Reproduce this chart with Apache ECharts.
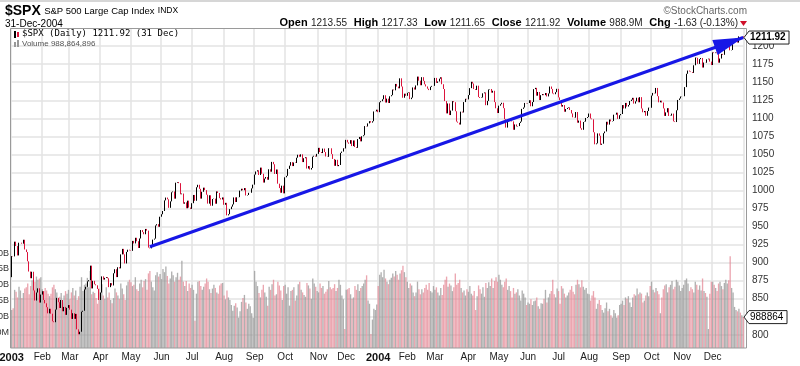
<!DOCTYPE html>
<html><head><meta charset="utf-8">
<script src="https://cdn.jsdelivr.net/npm/echarts@6/dist/echarts.min.js"></script>
<style>html,body{margin:0;padding:0;background:#fff}#c{width:800px;height:366px}</style>
</head><body><div id="c"></div>
<script>
// ---------------- data ----------------
const holidays = ['2003-01-01','2003-01-20','2003-02-17','2003-04-18','2003-05-26','2003-07-04','2003-09-01','2003-11-27','2003-12-25',
  '2004-01-01','2004-01-19','2004-02-16','2004-04-09','2004-05-31','2004-06-11','2004-07-05','2004-09-06','2004-11-25','2004-12-24'];
const monthNames = ['Jan','Feb','Mar','Apr','May','Jun','Jul','Aug','Sep','Oct','Nov','Dec'];
const prevClose2002 = 879.82;
const close2003 = [
 [909.03,908.59,929.01,922.93,909.93,927.57,927.57,926.26,931.66,918.22,914.60,901.78,887.62,878.36,887.34,861.40,847.48,858.54,864.36,844.61,855.70],
 [860.32,848.20,843.59,838.15,829.69,835.97,829.20,818.68,817.37,834.89,851.17,845.13,837.10,848.17,832.58,838.57,827.55,837.28,841.15],
 [834.81,821.99,829.85,822.10,828.89,807.48,800.73,804.19,831.90,833.27,862.79,866.45,874.02,875.67,895.79,864.23,874.74,869.95,868.52,863.50,848.18],
 [858.48,880.90,876.45,878.85,879.93,878.29,865.99,871.58,868.30,885.23,890.81,879.91,893.58,892.01,911.37,919.02,911.43,898.81,914.84,917.84,916.92],
 [916.30,930.08,926.55,934.39,929.62,920.27,933.41,945.11,942.30,939.28,946.67,944.30,920.77,919.73,923.42,931.87,933.22,951.48,953.22,949.64,963.59],
 [967.00,971.56,986.24,990.14,987.76,975.93,984.84,997.48,998.51,988.61,1010.74,1011.66,1010.09,994.70,995.69,981.64,983.45,975.32,985.82,976.22,974.50],
 [982.32,993.75,985.70,1004.42,1007.84,1002.21,988.70,998.14,1003.86,1000.42,994.09,981.73,993.32,978.80,988.11,988.61,981.60,998.68,996.52,989.28,987.49,990.31],
 [980.15,982.82,965.46,967.08,974.12,977.59,980.59,990.35,984.03,990.51,990.67,999.74,1002.35,1000.30,1003.27,993.06,993.71,996.73,996.79,1002.84,1008.01],
 [1021.99,1026.27,1027.97,1021.39,1031.64,1023.17,1010.92,1016.42,1018.63,1014.81,1029.32,1025.97,1039.58,1036.30,1022.82,1029.03,1009.38,1003.27,996.85,1006.58,995.97],
 [1018.22,1020.24,1029.85,1034.35,1039.25,1033.78,1038.73,1038.06,1045.35,1049.48,1046.76,1050.07,1039.32,1044.68,1046.03,1030.36,1033.77,1028.91,1031.13,1046.79,1048.11,1046.94,1050.71],
 [1059.02,1053.25,1051.81,1058.05,1053.21,1047.11,1046.57,1058.53,1058.41,1050.35,1043.63,1034.15,1042.44,1033.65,1035.28,1052.08,1053.89,1058.45,1058.20],
 [1070.12,1066.62,1064.73,1069.72,1061.50,1069.30,1060.18,1059.05,1071.21,1074.14,1068.04,1075.13,1076.48,1089.18,1088.66,1092.94,1096.02,1094.04,1095.89,1109.48,1109.64,1111.92]
];
const close2004 = [
 [1108.48,1122.22,1123.67,1126.33,1131.92,1121.86,1127.23,1121.22,1130.52,1132.05,1139.83,1138.77,1147.62,1143.94,1141.55,1155.37,1144.05,1128.48,1134.11,1131.13],
 [1135.26,1136.03,1126.52,1128.59,1142.76,1139.81,1145.54,1157.76,1152.11,1145.81,1156.99,1151.82,1147.06,1144.11,1140.99,1139.09,1143.67,1144.91,1144.94],
 [1155.97,1149.10,1151.03,1154.87,1156.86,1147.20,1140.58,1123.89,1106.78,1120.57,1104.49,1110.70,1123.75,1122.32,1109.78,1095.40,1093.95,1091.33,1109.19,1108.06,1122.47,1127.00,1126.21],
 [1132.17,1141.81,1150.57,1148.16,1140.53,1139.32,1145.20,1129.44,1128.17,1128.84,1134.61,1135.82,1118.15,1124.09,1139.93,1140.60,1135.53,1138.11,1122.41,1113.89,1107.30],
 [1117.49,1119.55,1121.53,1113.99,1098.70,1087.12,1095.45,1097.28,1096.44,1095.70,1084.10,1091.49,1088.68,1089.19,1093.56,1095.41,1113.05,1114.94,1121.28,1120.68],
 [1121.20,1124.99,1116.64,1122.50,1140.42,1142.18,1131.33,1136.47,1125.29,1132.01,1133.56,1132.05,1135.02,1130.30,1134.41,1144.06,1140.65,1134.43,1133.35,1136.20,1140.84],
 [1128.94,1125.38,1116.21,1118.33,1109.11,1112.81,1114.35,1115.14,1111.47,1106.69,1101.39,1100.90,1108.67,1093.88,1096.84,1086.20,1084.07,1094.83,1095.42,1100.43,1101.72],
 [1106.62,1099.69,1098.63,1080.70,1063.97,1065.22,1079.04,1075.79,1063.23,1064.80,1079.34,1081.71,1095.17,1091.23,1098.35,1095.68,1096.19,1104.96,1105.09,1107.77,1099.15,1104.24],
 [1105.91,1118.31,1113.63,1121.30,1116.27,1118.38,1123.92,1125.82,1128.33,1120.37,1123.50,1128.55,1122.20,1129.30,1113.56,1108.36,1110.11,1103.52,1110.06,1114.80,1114.58],
 [1131.50,1135.17,1134.48,1142.05,1130.65,1122.14,1124.39,1121.84,1113.65,1103.29,1108.20,1114.02,1103.23,1103.66,1106.49,1095.74,1094.80,1111.09,1125.40,1127.44,1130.20],
 [1130.51,1130.56,1143.20,1161.67,1166.17,1164.89,1164.08,1162.91,1173.48,1184.17,1183.81,1175.43,1181.94,1183.55,1170.34,1177.24,1176.94,1181.76,1182.65,1178.57,1173.82],
 [1191.37,1190.33,1191.17,1190.25,1177.07,1182.81,1189.24,1188.00,1198.68,1203.38,1205.72,1203.21,1194.20,1194.65,1205.45,1209.57,1210.13,1204.92,1213.54,1213.45,1213.55,1211.92]
];
// volume, billions of shares
const vol2003 = [
 [1.10,1.13,1.42,1.39,1.30,1.47,1.41,1.29,1.37,1.44,1.46,1.52,1.35,1.48,1.57,1.44,1.55,1.63,1.58,1.60,1.62],
 [1.43,1.40,1.45,1.41,1.36,1.32,1.36,1.46,1.50,1.43,1.38,1.27,1.31,1.37,1.22,1.33,1.40,1.36,1.42],
 [1.28,1.38,1.45,1.33,1.41,1.26,1.32,1.47,1.62,1.40,1.50,1.52,1.61,1.46,1.72,1.35,1.39,1.37,1.29,1.20,1.44],
 [1.38,1.51,1.33,1.28,1.46,1.30,1.38,1.26,1.21,1.29,1.44,1.38,1.33,1.28,1.52,1.44,1.35,1.26,1.49,1.55,1.58],
 [1.54,1.48,1.50,1.62,1.43,1.40,1.52,1.58,1.46,1.56,1.59,1.42,1.68,1.72,1.55,1.46,1.41,1.65,1.70,1.63,1.67],
 [1.59,1.75,1.70,1.79,1.64,1.52,1.60,1.71,1.65,1.55,1.62,1.69,1.58,1.63,1.88,1.55,1.48,1.56,1.40,1.52,1.45],
 [1.50,1.42,0.93,1.36,1.55,1.56,1.48,1.42,1.47,1.52,1.60,1.55,1.43,1.37,1.44,1.50,1.45,1.38,1.36,1.49,1.52,1.53],
 [1.33,1.27,1.41,1.30,1.26,1.18,1.09,1.17,1.21,1.14,0.98,1.08,1.23,1.29,1.34,1.22,1.12,1.20,1.16,1.05,0.98],
 [1.72,1.55,1.48,1.37,1.30,1.42,1.50,1.38,1.31,1.17,1.47,1.42,1.51,1.58,1.33,1.35,1.55,1.49,1.41,1.26,1.48],
 [1.50,1.36,1.46,1.17,1.40,1.42,1.46,1.25,1.33,1.51,1.55,1.42,1.38,1.34,1.31,1.53,1.49,1.44,1.28,1.60,1.52,1.47,1.40],
 [1.38,1.52,1.45,1.48,1.36,1.39,1.43,1.56,1.46,1.43,1.45,1.51,1.40,1.45,1.58,1.50,1.33,1.27,0.80],
 [1.42,1.43,1.45,1.35,1.28,1.30,1.48,1.42,1.51,1.40,1.45,1.48,1.52,1.58,1.65,1.25,1.20,0.72,0.95,1.12,1.10,1.19]
];
const vol2004 = [
 [1.48,1.66,1.70,1.62,1.74,1.60,1.55,1.51,1.58,1.61,1.68,1.63,1.72,1.66,1.58,1.68,1.73,1.80,1.70,1.62],
 [1.55,1.45,1.52,1.49,1.38,1.32,1.38,1.55,1.43,1.35,1.43,1.38,1.45,1.50,1.42,1.53,1.40,1.38,1.48],
 [1.42,1.46,1.38,1.33,1.45,1.34,1.50,1.58,1.63,1.47,1.52,1.49,1.40,1.46,1.68,1.50,1.53,1.58,1.45,1.38,1.41,1.33,1.43],
 [1.39,1.48,1.36,1.33,1.40,1.10,1.32,1.49,1.43,1.36,1.46,1.31,1.53,1.45,1.54,1.48,1.60,1.45,1.56,1.62,1.55],
 [1.66,1.58,1.50,1.46,1.55,1.60,1.42,1.48,1.40,1.30,1.45,1.36,1.38,1.43,1.33,1.25,1.41,1.36,1.30,1.18],
 [1.22,1.20,1.27,1.18,1.24,1.25,1.30,1.16,1.12,1.21,1.20,1.28,1.42,1.22,1.30,1.36,1.40,1.58,1.35,1.30,1.44],
 [1.40,1.20,1.48,1.44,1.36,1.30,1.33,1.38,1.42,1.48,1.39,1.35,1.50,1.58,1.51,1.46,1.57,1.47,1.42,1.45,1.36],
 [1.35,1.25,1.33,1.40,1.30,1.12,1.20,1.26,1.18,1.10,1.06,1.13,1.22,1.08,1.12,1.02,0.98,1.10,1.05,0.98,1.02,1.18],
 [1.20,1.25,1.18,1.30,1.28,1.32,1.22,1.15,1.30,1.35,1.33,1.44,1.35,1.38,1.36,1.22,1.25,1.33,1.38,1.32,1.48],
 [1.55,1.42,1.38,1.45,1.40,1.35,1.05,1.30,1.43,1.49,1.51,1.38,1.46,1.50,1.56,1.43,1.47,1.58,1.55,1.49,1.40],
 [1.45,1.50,1.57,1.60,1.52,1.40,1.46,1.43,1.38,1.55,1.50,1.42,1.49,1.41,1.60,1.40,1.37,1.31,0.80,1.36,1.55],
 [1.55,1.50,1.45,1.40,1.52,1.55,1.48,1.43,1.53,1.58,1.52,1.57,1.95,1.45,1.38,1.15,1.10,1.08,1.12,1.06,1.02,0.988864896]
];
const trendLine = [['2003-05-20', 922], ['2004-12-31', 1212]];
const lastBar = { date: '31-Dec-2004', open: '1213.55', high: '1217.33', low: '1211.65', close: '1211.92', volume: '988.9M', volFull: '988,864,896', volRaw: '988864896', chg: '-1.63', pct: '(-0.13%)' };

// ---------------- build ----------------
const dates = [];
for (let t = Date.UTC(2003, 0, 1); t <= Date.UTC(2004, 11, 31); t += 86400000) {
  const d = new Date(t), wd = d.getUTCDay();
  if (wd === 0 || wd === 6) continue;
  const s = d.toISOString().slice(0, 10);
  if (holidays.includes(s)) continue;
  dates.push(s);
}
const monthClose = close2003.concat(close2004), monthVol = vol2003.concat(vol2004);
const closes = monthClose.flat(), vols = monthVol.flat();
(function () {
  const cnt = {};
  dates.forEach(d => { const k = d.slice(0, 7); cnt[k] = (cnt[k] || 0) + 1; });
  Object.keys(cnt).sort().forEach((k, i) => {
    if (monthClose[i].length !== cnt[k] || monthVol[i].length !== cnt[k])
      throw new Error('count mismatch ' + k + ' dates=' + cnt[k] + ' close=' + monthClose[i].length + ' vol=' + monthVol[i].length);
  });
})();
const ohlc = closes.map((c, i) => { const o = i ? closes[i - 1] : prevClose2002; return [o, c, Math.min(o, c), Math.max(o, c)]; });
const UP = '#000000', DOWN = '#dc143c';
const volData = vols.map((v, i) => ({ value: v, itemStyle: { color: ohlc[i][1] >= ohlc[i][0] ? 'rgba(150,150,150,0.75)' : 'rgba(226,128,142,0.7)' } }));
const isMonthStart = i => i === 0 || dates[i].slice(0, 7) !== dates[i - 1].slice(0, 7);

const F = 'Liberation Sans, Arial, sans-serif';
const splitColors = []; for (let i = 0; i < 19; i++) splitColors.push(i === 0 || i === 18 ? 'rgba(0,0,0,0)' : '#e3e3e3');

const chart = echarts.init(document.getElementById('c'), null, { renderer: 'canvas' });
chart.setOption({
  animation: false,
  backgroundColor: '#ffffff',
  grid: [
    { left: 11, right: 56, top: 28.1, bottom: 13.2, outerBoundsMode: 'none', containLabel: false },
    { left: 11, right: 56, top: 28, bottom: 18, outerBoundsMode: 'none', containLabel: false }
  ],
  xAxis: [
    { type: 'category', gridIndex: 0, data: dates, boundaryGap: true, show: false },
    { type: 'category', gridIndex: 1, data: dates, boundaryGap: true,
      axisLine: { show: false }, axisTick: { show: false },
      axisLabel: { interval: (i) => isMonthStart(i), margin: 4, color: '#222', fontFamily: F, fontSize: 10,
        hideOverlap: false,
        formatter: v => v.slice(5, 7) === '01' ? '{b|' + v.slice(0, 4) + '}' : monthNames[+v.slice(5, 7) - 1],
        rich: { b: { fontWeight: 'bold', fontSize: 11, fontFamily: F, color: '#111' } } },
      splitLine: { show: true, interval: (i) => isMonthStart(i), lineStyle: { color: '#e3e3e3', width: 1.5 } } }
  ],
  yAxis: [
    { type: 'value', gridIndex: 0, position: 'right', min: 775, max: 1225, interval: 25,
      axisLine: { show: false }, axisTick: { show: false },
      axisLabel: { margin: 8, color: '#333', fontFamily: F, fontSize: 10, align: 'left',
        formatter: v => (v < 800 || v > 1200) ? '' : String(v) },
      splitLine: { show: true, lineStyle: { color: splitColors, width: 1.5 } } },
    { type: 'value', gridIndex: 1, position: 'left', min: 0.5, max: 5.563, interval: 0.25,
      axisLine: { show: false }, axisTick: { show: false }, splitLine: { show: false },
      axisLabel: { margin: 2, color: '#333', fontFamily: F, fontSize: 9, align: 'right',
        formatter: v => v === 0.75 ? '750M' : (v >= 1 && v <= 2 ? v.toFixed(2) + 'B' : '') } }
  ],
  series: [
    { type: 'bar', name: 'Volume', xAxisIndex: 1, yAxisIndex: 1, data: volData, barCategoryGap: '8%', z: 1 },
    { type: 'candlestick', name: '$SPX', xAxisIndex: 0, yAxisIndex: 0, data: ohlc, barWidth: 1.3, z: 3,
      itemStyle: { color: UP, color0: DOWN, borderColor: UP, borderColor0: DOWN, borderWidth: 1 },
      markLine: { silent: true, animation: false, symbol: ['none', 'none'],
        label: { show: false }, lineStyle: { color: '#1717e6', width: 3, type: 'solid' },
        data: [[ { coord: trendLine[0] }, { coord: trendLine[1] } ]] } }
  ],
  graphic: [
    { type: 'rect', id: 'topband', shape: { x: 0, y: 0, width: 800, height: 2 }, style: { fill: '#d6d6d6' }, silent: true },
    { type: 'rect', id: 'frame', shape: { x: 10.5, y: 28.5, width: 736, height: 319.5 }, style: { fill: 'none', stroke: '#9a9a9a', lineWidth: 1 }, z: 10, silent: true },
    { type: 'text', id: 't1', x: 5, y: 4, style: { text: '{a|$SPX} {b|S&P 500 Large Cap Index} {c|INDX}',
        rich: { a: { font: 'bold 14px ' + F, fill: '#000' }, b: { font: '9.5px ' + F, fill: '#000' }, c: { font: '8.5px ' + F, fill: '#000' } } } },
    { type: 'text', id: 't2', x: 5, y: 19, style: { text: lastBar.date, font: '10px ' + F, fill: '#000' } },
    { type: 'text', id: 't3', x: 747, y: 6, style: { text: '\u00a9StockCharts.com', font: '10px ' + F, fill: '#666', align: 'right' } },
    { type: 'text', id: 't4', x: 738, y: 17, style: { align: 'right',
        text: '{b|Open} {n|' + lastBar.open + '}  {b|High} {n|' + lastBar.high + '}  {b|Low} {n|' + lastBar.low + '}  {b|Close} {n|' + lastBar.close + '}  {b|Volume} {n|' + lastBar.volume + '}  {b|Chg} {n|' + lastBar.chg + ' ' + lastBar.pct + '}',
        rich: { b: { font: 'bold 11px ' + F, fill: '#000' }, n: { font: '10px ' + F, fill: '#222' } } } },
    { type: 'polygon', id: 'tri', shape: { points: [[740, 21], [747, 21], [743.5, 26]] }, style: { fill: '#d0102a' } },
    { type: 'text', id: 'lg1', x: 22, y: 29, z: 20, style: { text: '$SPX (Daily) ' + lastBar.close + ' (31 Dec)', font: '9px DejaVu Sans Mono, monospace', fill: '#000' } },
    { type: 'text', id: 'lg2', x: 22, y: 40, z: 20, style: { text: 'Volume ' + lastBar.volFull, font: '8px ' + F, fill: '#555' } },
    { type: 'rect', id: 'ic1', shape: { x: 14, y: 31, width: 2, height: 7 }, style: { fill: '#000' }, z: 20 },
    { type: 'rect', id: 'ic2', shape: { x: 17, y: 32, width: 2, height: 5 }, style: { fill: DOWN }, z: 20 },
    { type: 'rect', id: 'ic3', shape: { x: 14, y: 42, width: 2, height: 5 }, style: { fill: '#999' }, z: 20 },
    { type: 'rect', id: 'ic4', shape: { x: 17, y: 40, width: 2, height: 7 }, style: { fill: '#999' }, z: 20 }
  ]
});

// arrow head and last-value tags, placed through the axes
const p0 = chart.convertToPixel({ xAxisIndex: 0, yAxisIndex: 0 }, trendLine[0]);
const p1 = chart.convertToPixel({ xAxisIndex: 0, yAxisIndex: 0 }, trendLine[1]);
const dx = p1[0] - p0[0], dy = p1[1] - p0[1], len = Math.hypot(dx, dy), ux = dx / len, uy = dy / len;
const HL = 30, HW = 8;
const bx = p1[0] - ux * HL, by = p1[1] - uy * HL;
const arrow = { type: 'polygon', id: 'arrowhead', z: 25, shape: { points: [[p1[0], p1[1]], [bx - uy * HW, by + ux * HW], [bx + uy * HW, by - ux * HW]] }, style: { fill: '#1717e6' } };

const yC = chart.convertToPixel({ yAxisIndex: 0 }, closes[closes.length - 1]);
const yV = chart.convertToPixel({ yAxisIndex: 1 }, vols[vols.length - 1]);
function tag(id, y, text, bold, w) {
  const x0 = 744;
  return [
    { type: 'polygon', id: id + 'b', z: 30, shape: { points: [[x0, y], [x0 + 5, y - 6.5], [x0 + 5 + w, y - 6.5], [x0 + 5 + w, y + 6.5], [x0 + 5, y + 6.5]] },
      style: { fill: '#fff', stroke: '#222', lineWidth: 1 } },
    { type: 'text', id: id + 't', z: 31, x: x0 + 6, y: y, style: { text: text, font: (bold ? 'bold ' : '') + '10px ' + F, fill: '#000', verticalAlign: 'middle', width: w - 1, overflow: 'truncate', ellipsis: '' } }
  ];
}
chart.setOption({ graphic: [arrow].concat(tag('pc', yC, lastBar.close, true, 40), tag('vc', yV, lastBar.volRaw, false, 38)) });
</script></body></html>
